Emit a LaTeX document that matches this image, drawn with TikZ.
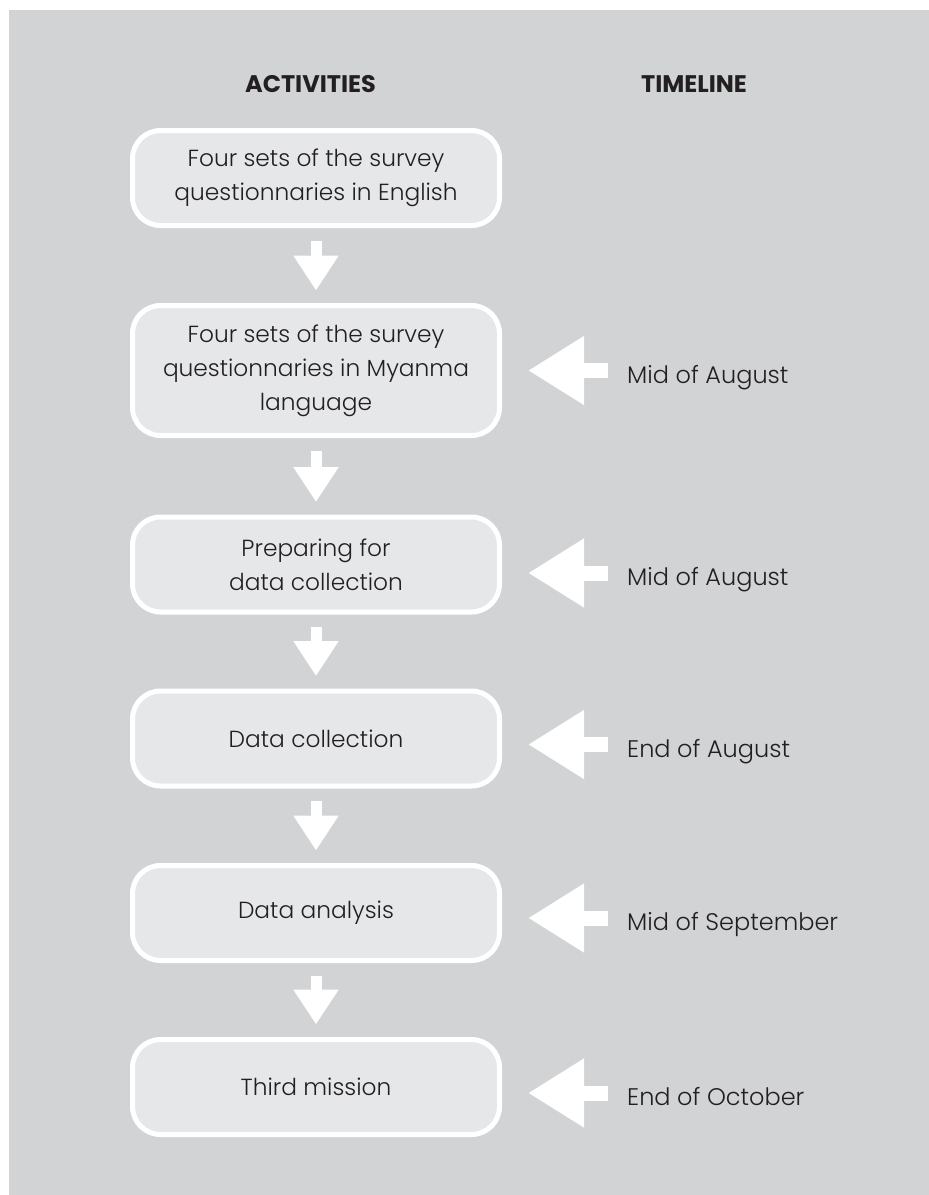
\documentclass[tikz,border=0pt]{standalone}
\usepackage{fontspec}
\setmainfont{Poppins}
\newfontfamily\lightfont{Poppins Light}
\usetikzlibrary{calc}
\usetikzlibrary{arrows.meta}
\definecolor{bggray}{HTML}{D1D3D4}
\definecolor{boxgray}{HTML}{E6E7E8}
\definecolor{ink}{HTML}{231F20}

\begin{document}
\begin{tikzpicture}[x=1pt,y=-1pt,
     act/.style={rectangle,rounded corners=28pt,draw=white,line width=5pt,fill=boxgray,
       text=ink,minimum width=367pt,minimum height=95pt,align=center,
       font=\lightfont\fontsize{23.3}{34}\selectfont},
     head/.style={anchor=base,text=ink,font=\fontsize{24}{28}\selectfont\bfseries},
     when/.style={anchor=base west,inner sep=0pt,text=ink,font=\lightfont\fontsize{24}{28}\selectfont},
     down/.style={white,line width=11pt,-{Triangle[width=43pt,length=35pt]}},
     back/.style={white,line width=15pt,-{Triangle[width=65pt,length=56pt]}}
   ]
   \path[use as bounding box] (0,0) rectangle (929,1195);
   \fill[bggray] (9,10) rectangle (929,1195);
   % Headings.
   \node[head] (hact) at (310.5,92) {ACTIVITIES};
   \node[head] (htime) at (694,92) {TIMELINE};
   % Activities.
   \node[act] (b1) at (316,178) {Four sets of the survey\\questionnaries in English};
   \node[act,minimum height=130pt] (b2) at (316,370.5) {Four sets of the survey\\questionnaries in Myanma\\language};
   \node[act] (b3) at (316,564.5) {Preparing for\\data collection};
   \node[act] (b4) at (316,738.5) {Data collection};
   \node[act] (b5) at (316,913) {Data analysis};
   \node[act] (b6) at (316,1087) {Third mission};
   \foreach \a/\b in {b1/b2,b2/b3,b3/b4,b4/b5,b5/b6}
     \draw[down] ([yshift=-12.5pt]\a.south) -- ([yshift=12.5pt]\b.north);
   % Timeline.
   \node[when] (t2) at (627,383) {Mid of August};
   \node[when] (t3) at (627,585.5) {Mid of August};
   \node[when] (t4) at (627,757) {End of August};
   \node[when] (t5) at (627,930.5) {Mid of September};
   \node[when] (t6) at (627,1105.5) {End of October};
   \foreach \t in {t2,t3,t4,t5,t6}
     \draw[back] ([shift={(-19,-12.5)}]\t.base west) -- ([shift={(-99,-12.5)}]\t.base west);
 \end{tikzpicture}
\end{document}
